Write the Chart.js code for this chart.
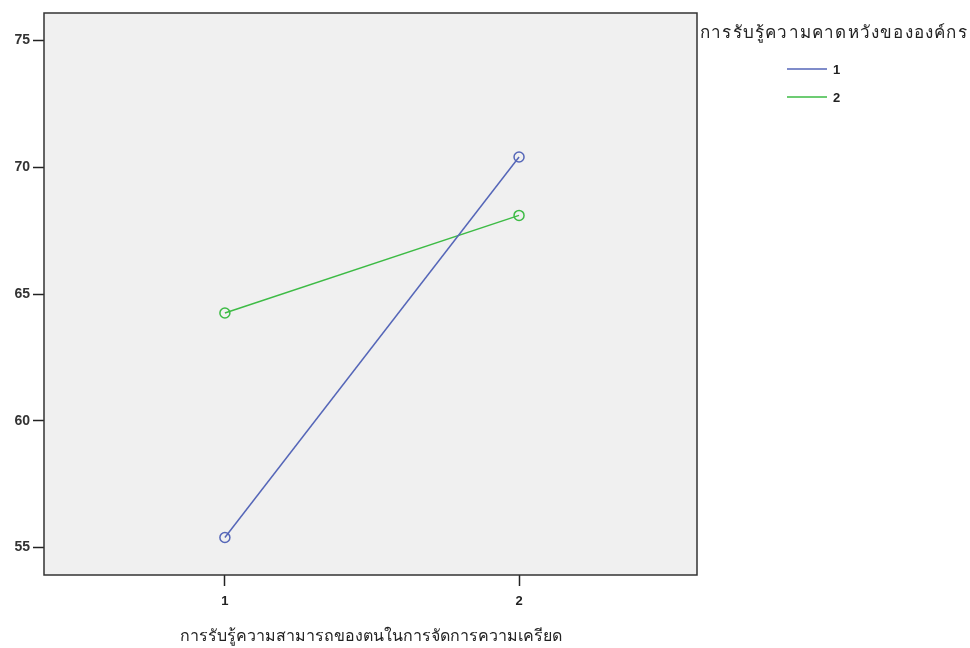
<!DOCTYPE html>
<html>
<head>
<meta charset="utf-8">
<script src="https://cdn.jsdelivr.net/npm/chart.js@4.4.1/dist/chart.umd.min.js"></script>
<style>
  html, body { margin: 0; padding: 0; background: #ffffff; }
  #wrap { width: 970px; height: 648px; position: relative; }
</style>
</head>
<body>
<div id="wrap"><canvas id="chart" width="970" height="648"></canvas></div>
<script>
// values
const categories = [1, 2];
const seriesNames = ['1', '2'];
const series1 = [55.4, 70.4];
const series2 = [64.25, 68.1];
const yTicks = [55, 60, 65, 70, 75];
const xTitle = 'การรับรู้ความสามารถของตนในการจัดการความเครียด';
const legendTitle = 'การรับรู้ความคาดหวังขององค์กร';

const blue = '#5566b8';
const green = '#3dbb45';
const fontStack = '"Liberation Sans", "DejaVu Sans", sans-serif';

// legend drawn on the canvas, to the right of the plot
const sideLegend = {
    id: 'sideLegend',
    afterDraw(chart) {
        const ctx = chart.ctx;
        ctx.save();
        ctx.fillStyle = '#222';
        ctx.font = '17px ' + fontStack;
        ctx.textBaseline = 'middle';
        ctx.textAlign = 'left';
        ctx.letterSpacing = '1.2px';
        ctx.fillText(legendTitle, 700, 33);
        ctx.letterSpacing = '0px';
        chart.data.datasets.forEach((ds, i) => {
            let y = 69 + i * 28;
            ctx.strokeStyle = ds.borderColor;
            ctx.lineWidth = 1.5;
            ctx.beginPath();
            ctx.moveTo(787, y);
            ctx.lineTo(827, y);
            ctx.stroke();
            ctx.fillStyle = '#222';
            ctx.font = 'bold 13px ' + fontStack;
            ctx.fillText(ds.label, 833, y + 1);
        });
        ctx.restore();
    }
};

// grey plot background + frame
const plotFrame = {
    id: 'plotFrame',
    beforeDraw(chart) {
        const a = chart.chartArea;
        const ctx = chart.ctx;
        ctx.save();
        ctx.fillStyle = '#f0f0f0';
        ctx.fillRect(a.left, a.top, a.right - a.left, a.bottom - a.top);
        ctx.restore();
    },
    afterDatasetsDraw(chart) {
        const a = chart.chartArea;
        const ctx = chart.ctx;
        ctx.save();
        ctx.strokeStyle = '#333';
        ctx.lineWidth = 1.5;
        ctx.strokeRect(a.left, a.top, a.right - a.left, a.bottom - a.top);
        ctx.restore();
    }
};

const ctx = document.getElementById('chart').getContext('2d');
const chart = new Chart(ctx, {
    type: 'line',
    data: {
        datasets: [
            {
                label: seriesNames[0],
                data: categories.map((c, i) => ({ x: c, y: series1[i] })),
                borderColor: blue,
                backgroundColor: 'transparent',
                borderWidth: 1.5,
                pointRadius: 5,
                pointBorderWidth: 1.5,
                pointBorderColor: blue,
                pointBackgroundColor: 'transparent'
            },
            {
                label: seriesNames[1],
                data: categories.map((c, i) => ({ x: c, y: series2[i] })),
                borderColor: green,
                backgroundColor: 'transparent',
                borderWidth: 1.5,
                pointRadius: 5,
                pointBorderWidth: 1.5,
                pointBorderColor: green,
                pointBackgroundColor: 'transparent'
            }
        ]
    },
    options: {
        responsive: false,
        animation: false,
        layout: { padding: { top: 13, right: 273, left: 0, bottom: 0 } },
        plugins: {
            legend: { display: false },
            tooltip: { enabled: false }
        },
        scales: {
            x: {
                type: 'linear',
                min: 0.385,
                max: 2.605,
                afterBuildTicks: (axis) => { axis.ticks = categories.map(v => ({ value: v })); },
                afterFit: (axis) => { axis.height = 73; },
                border: { display: false },
                grid: { drawOnChartArea: false, tickLength: 11, color: '#222', tickWidth: 1.5 },
                ticks: {
                    padding: 8,
                    color: '#222',
                    font: { family: fontStack, size: 13, weight: 'bold' }
                },
                title: {
                    display: true,
                    text: xTitle,
                    color: '#222',
                    padding: { top: 0, bottom: 2 },
                    font: { family: fontStack, size: 16 }
                }
            },
            y: {
                min: 53.92,
                max: 76.08,
                afterBuildTicks: (axis) => { axis.ticks = yTicks.map(v => ({ value: v })); },
                afterFit: (axis) => { axis.width = 44; },
                border: { display: false },
                grid: { drawOnChartArea: false, tickLength: 11, color: '#222', tickWidth: 1.5 },
                ticks: {
                    padding: 3,
                    color: '#333',
                    font: { family: fontStack, size: 14, weight: 'bold' }
                }
            }
        }
    },
    plugins: [plotFrame, sideLegend]
});
</script>
</body>
</html>
